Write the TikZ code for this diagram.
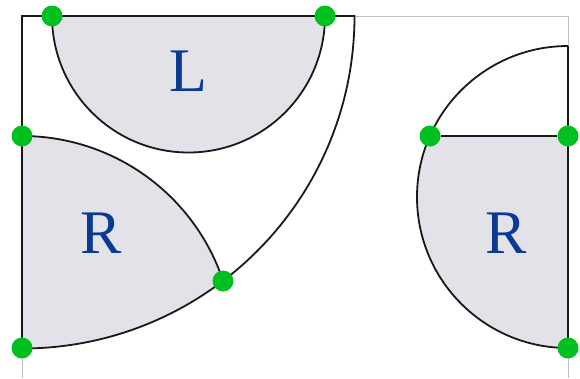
\documentclass[tikz,border=0pt]{standalone}
\usepackage{fontspec}
\setmainfont{Liberation Serif}
\definecolor{regfill}{HTML}{E2E2E8}
\definecolor{dotgreen}{HTML}{00C020}
\definecolor{lblue}{HTML}{0A3A94}
\definecolor{frame}{HTML}{C0C0C0}
\tikzset{
  dot/.style={circle,fill=dotgreen,inner sep=0pt,minimum size=21pt},
  outline/.style={draw=black!90,line width=1.8pt},
  region/.style={fill=regfill},
  letter/.style={text=lblue,inner sep=0pt,font=\fontsize{62}{62}\selectfont}
}
\begin{document}
\begin{tikzpicture}[x=1pt,y=-1pt]
\useasboundingbox (0,0) rectangle (580,378);
% light frame
\draw[frame,line width=1pt] (22,378) -- (22,16) -- (568,16) -- (568,378);
% fills
\fill[region] (52,16) arc[start angle=180,end angle=0,radius=136.5] -- cycle;
\fill[region] (22,136) -- (22,348) arc[start angle=90,end angle=52.8,radius=332.5]
  arc[start angle=-18.4,end angle=-90,radius=212] -- cycle;
\fill[region] (430,136) -- (568,136) -- (568,348) arc[start angle=90,end angle=203.8,radius=151] -- cycle;
% outlines
\draw[outline] (22,348) -- (22,16) -- (354.5,16) arc[start angle=0,end angle=90,radius=332.5];
\draw[outline] (52,16) arc[start angle=180,end angle=0,radius=136.5];
\draw[outline] (22,136) arc[start angle=-90,end angle=-18.4,radius=212];
\draw[outline] (568,46) -- (568,348);
\draw[outline] (568,46) arc[start angle=270,end angle=90,radius=151];
% labels
\node[letter] (lL) at (188,71) {L};
\node[letter] (lR1) at (101.5,233) {R};
\node[letter] (lR2) at (506.5,233) {R};
% points
\node[dot] (p1) at (52,16) {};
\node[dot] (p2) at (325,16) {};
\node[dot] (p3) at (22,136) {};
\node[dot] (p4) at (22,348) {};
\node[dot] (p5) at (223,281) {};
\node[dot] (p6) at (430,136) {};
\node[dot] (p7) at (568,136) {};
\node[dot] (p8) at (568,348) {};
\draw[outline] (p6) -- (p7);
\end{tikzpicture}
\end{document}
